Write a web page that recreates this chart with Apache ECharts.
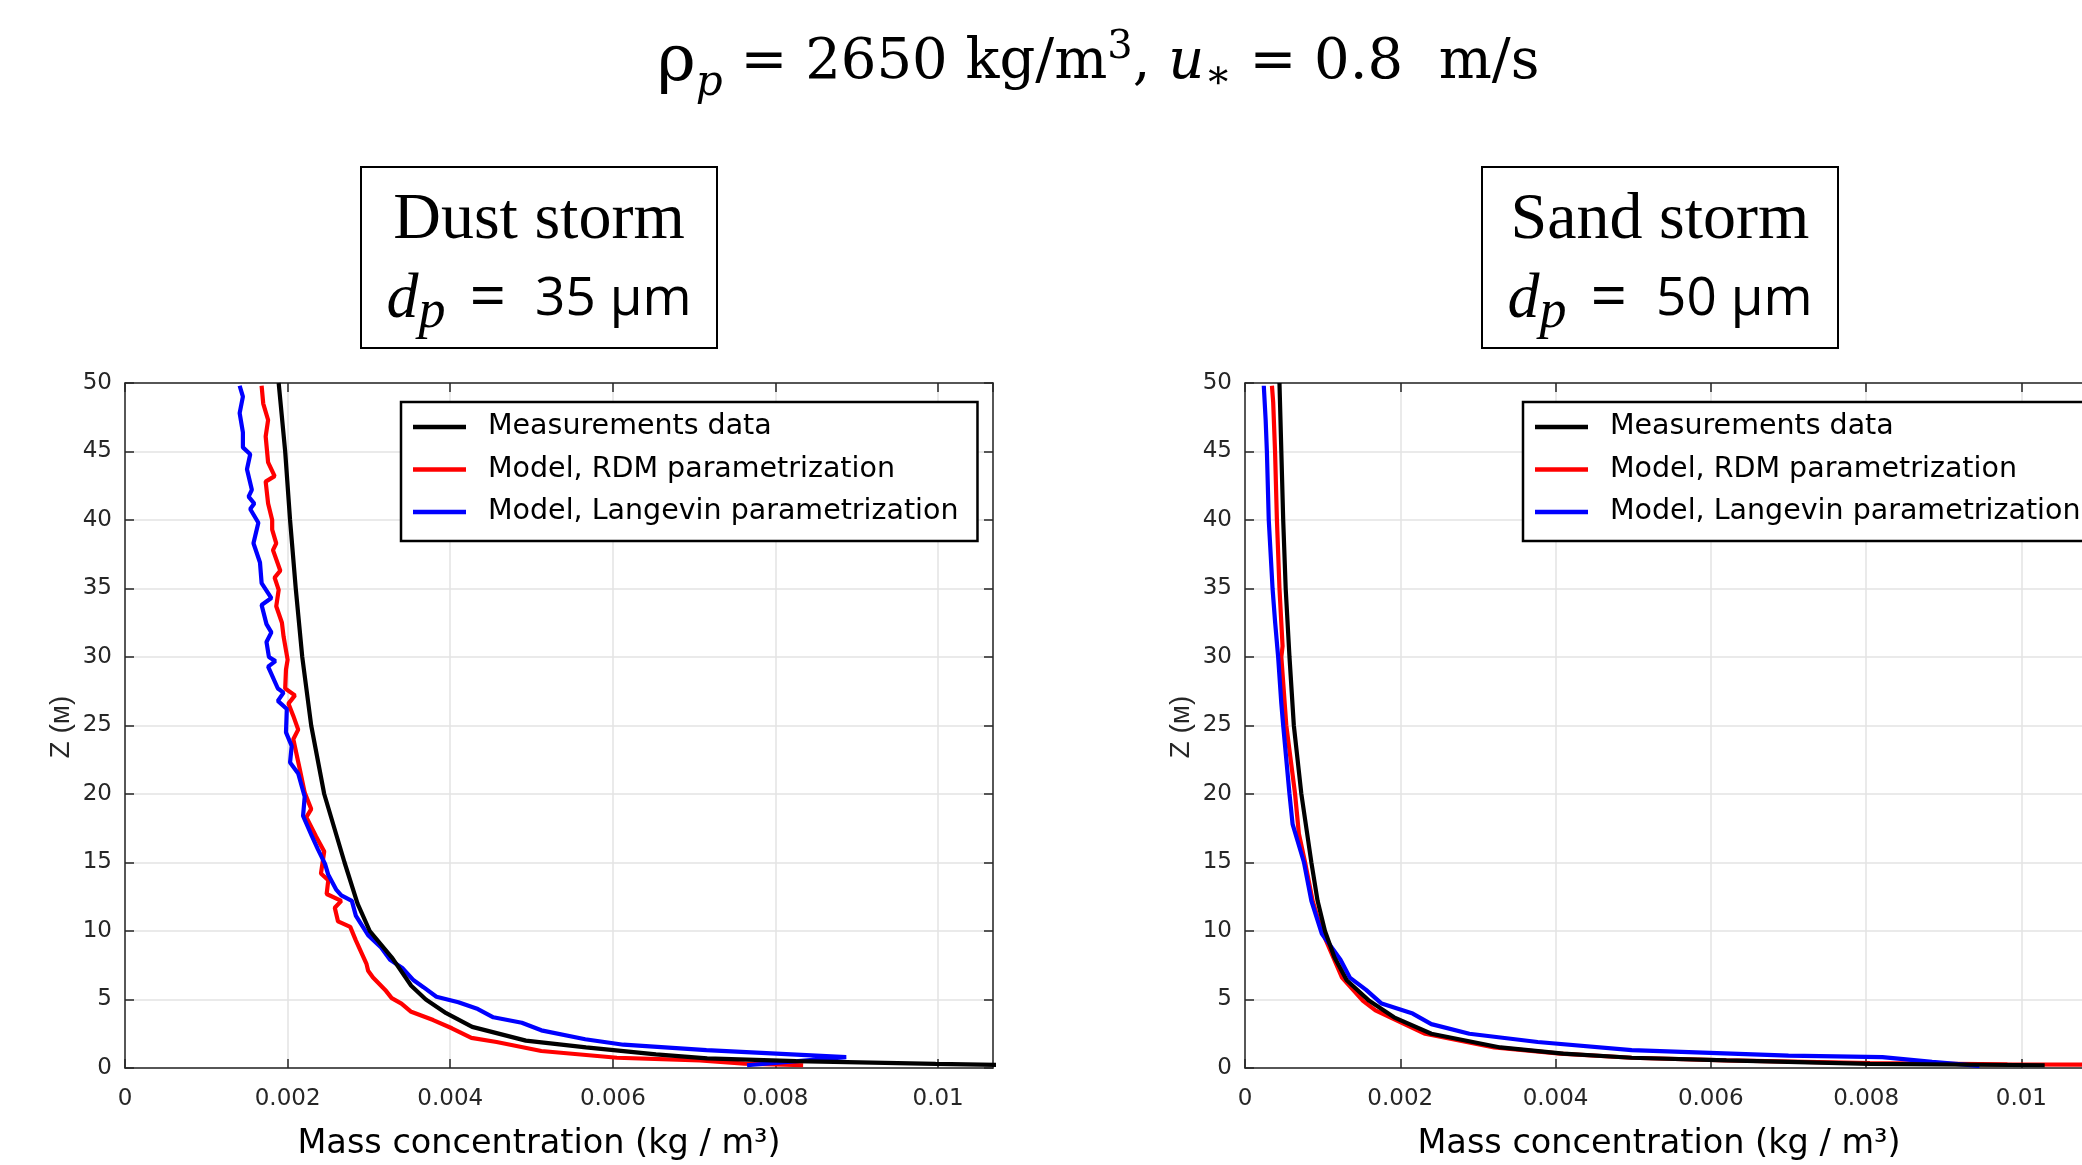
<!DOCTYPE html>
<html><head><meta charset="utf-8">
<script src="https://cdn.jsdelivr.net/npm/echarts@6/dist/echarts.min.js"></script>
<style>html,body{margin:0;padding:0;background:#fff}#c{width:2082px;height:1165px}</style>
</head><body><div id="c"></div><script>
// ---------- data ----------
const seriesNames = ['Measurements data', 'Model, RDM parametrization', 'Model, Langevin parametrization'];
const xTickLabels = ['0', '0.002', '0.004', '0.006', '0.008', '0.01'];
const yTickLabels = ['0', '5', '10', '15', '20', '25', '30', '35', '40', '45', '50'];

// Dust storm, d_p = 35 µm
const dustMeasZ = [50, 45, 40, 35, 30, 25, 20, 15, 12, 10, 8, 6, 5, 4, 3, 2, 1.5, 1, 0.7, 0.5, 0.3, 0.2];
const dustMeasC = [0.00189, 0.00197, 0.00203, 0.00210, 0.00218, 0.00229, 0.00245, 0.00270, 0.00286, 0.00301, 0.00329, 0.00352, 0.00370, 0.00395, 0.00427, 0.00493, 0.00567, 0.00653, 0.00716, 0.00825, 0.00997, 0.0110];
const dustRdmZ = [49.8, 48.5, 47.3, 46.1, 44.2, 43.2, 42.8, 41.2, 40.0, 39.3, 38.3, 37.8, 36.3, 35.8, 34.9, 33.7, 32.5, 31.5, 29.8, 29.1, 27.7, 27.2, 26.6, 25.7, 24.7, 24.0, 21.8, 20.1, 18.9, 18.3, 16.9, 15.8, 14.2, 13.7, 12.7, 12.2, 11.7, 10.7, 10.3, 9.3, 7.6, 7.1, 6.6, 5.7, 5.1, 4.7, 4.1, 3.5, 2.9, 2.2, 1.9, 1.24, 0.75, 0.56, 0.32, 0.2];
const dustRdmC = [0.00168, 0.00170, 0.00176, 0.00173, 0.00176, 0.00184, 0.00173, 0.00176, 0.00181, 0.00181, 0.00186, 0.00182, 0.00191, 0.00184, 0.00189, 0.00186, 0.00193, 0.00195, 0.00200, 0.00198, 0.00197, 0.00209, 0.00201, 0.00207, 0.00213, 0.00207, 0.00215, 0.00221, 0.00229, 0.00223, 0.00235, 0.00245, 0.00241, 0.00250, 0.00248, 0.00266, 0.00258, 0.00262, 0.00277, 0.00284, 0.00297, 0.00299, 0.00305, 0.00320, 0.00328, 0.00340, 0.00352, 0.00379, 0.00402, 0.00426, 0.00457, 0.00512, 0.00605, 0.00707, 0.00762, 0.00834];
const dustLgvZ = [49.8, 49.0, 47.8, 46.4, 45.3, 44.8, 43.7, 42.2, 41.7, 41.2, 40.8, 39.8, 38.3, 36.9, 35.4, 34.3, 33.8, 32.4, 31.8, 31.1, 30.0, 29.7, 29.3, 27.7, 27.4, 26.8, 26.2, 24.5, 23.5, 22.3, 21.5, 19.8, 18.4, 16.9, 16.0, 14.9, 14.1, 13.0, 12.6, 12.2, 11.1, 9.7, 8.8, 7.9, 7.3, 6.4, 5.9, 5.2, 4.8, 4.3, 3.7, 3.3, 2.75, 2.1, 1.7, 1.3, 0.8, 0.2];
const dustLgvC = [0.00141, 0.00145, 0.00141, 0.00145, 0.00145, 0.00154, 0.00150, 0.00156, 0.00152, 0.00159, 0.00154, 0.00164, 0.00158, 0.00166, 0.00168, 0.00180, 0.00168, 0.00174, 0.00180, 0.00174, 0.00177, 0.00185, 0.00176, 0.00188, 0.00195, 0.00188, 0.00199, 0.00198, 0.00205, 0.00203, 0.00213, 0.00221, 0.00219, 0.00230, 0.00237, 0.00246, 0.00250, 0.00260, 0.00266, 0.00279, 0.00284, 0.00299, 0.00315, 0.00326, 0.00341, 0.00355, 0.00367, 0.00383, 0.00410, 0.00434, 0.00453, 0.00488, 0.00512, 0.00566, 0.00613, 0.00715, 0.00887, 0.00765];

// Sand storm, d_p = 50 µm
const sandMeasZ = [50, 45, 40, 35, 30, 25, 20, 15, 12.2, 10, 8.1, 6.4, 4.9, 3.7, 2.5, 1.5, 1.05, 0.75, 0.56, 0.3, 0.2];
const sandMeasC = [0.000444, 0.000468, 0.000492, 0.000524, 0.000573, 0.000629, 0.000726, 0.000855, 0.000935, 0.00103, 0.00115, 0.00131, 0.00160, 0.00192, 0.00240, 0.00329, 0.00410, 0.00498, 0.00620, 0.00805, 0.0103];
const sandRdmZ = [49.8, 48.6, 45, 40, 35, 30.8, 30, 25, 20, 17.1, 15, 12.2, 10, 6.6, 4.9, 4.2, 2.5, 1.5, 1.05, 0.75, 0.56, 0.36, 0.27, 0.22];
const sandRdmC = [0.000347, 0.000363, 0.000387, 0.000411, 0.000444, 0.000484, 0.000468, 0.000532, 0.000645, 0.000694, 0.000774, 0.000871, 0.00099, 0.00125, 0.00152, 0.00168, 0.00232, 0.00321, 0.00406, 0.00498, 0.00620, 0.00805, 0.00982, 0.0115];
const sandLgvZ = [49.8, 47.3, 45, 40, 35, 32.6, 30, 26.6, 25, 20, 17.8, 15, 12.2, 9.8, 7.9, 6.6, 5.7, 4.7, 3.97, 3.2, 2.5, 1.9, 1.3, 0.9, 0.8, 0.45, 0.15];
const sandLgvC = [0.000242, 0.000266, 0.000282, 0.000306, 0.000355, 0.000387, 0.000427, 0.000468, 0.000492, 0.000573, 0.000613, 0.000760, 0.000855, 0.00099, 0.00123, 0.00135, 0.00156, 0.00176, 0.00216, 0.00240, 0.00289, 0.00377, 0.00498, 0.00700, 0.00821, 0.00885, 0.00946];

// ---------- helpers ----------
const pairs = (c, z) => c.map((v, i) => [v, z[i]]);
const AX = '#262626';
const colors = ['#000000', '#ff0000', '#0000ff'];

const plots = [
  { left: 125, xmax: 0.010675, sets: [[dustMeasC, dustMeasZ], [dustRdmC, dustRdmZ], [dustLgvC, dustLgvZ]], legendLeft: 401, xNameX: 539, yNameX: 61 },
  { left: 1245, xmax: 0.01118, sets: [[sandMeasC, sandMeasZ], [sandRdmC, sandRdmZ], [sandLgvC, sandLgvZ]], legendLeft: 1523, xNameX: 1659, yNameX: 1181 }
];

const grid = [], xAxis = [], yAxis = [], series = [], legend = [];
const labelStyle = { color: AX, fontFamily: 'DejaVu Sans', fontSize: 23 };
plots.forEach((p, g) => {
  grid.push({ left: p.left, top: 383, width: 868, height: 685, outerBoundsMode: 'none', containLabel: false });
  const base = {
    gridIndex: g, type: 'value', min: 0, max: p.xmax, interval: 0.002,
    axisLine: { show: true, onZero: false, lineStyle: { color: AX, width: 1.5 } },
    axisTick: { show: true, inside: true, length: 9, lineStyle: { color: AX, width: 1.5 } }
  };
  xAxis.push(Object.assign({}, base, {
    position: 'bottom',
    axisLabel: Object.assign({ show: true, margin: 20, showMaxLabel: false,
      formatter: v => xTickLabels[Math.round(v / 0.002)] || '' }, labelStyle),
    splitLine: { show: true, lineStyle: { color: '#e3e3e3', width: 1.5 } }
  }));
  xAxis.push(Object.assign({}, base, { position: 'top', axisLabel: { show: false }, splitLine: { show: false } }));
  const ybase = {
    gridIndex: g, type: 'value', min: 0, max: 50, interval: 5,
    axisLine: { show: true, onZero: false, lineStyle: { color: AX, width: 1.5 } },
    axisTick: { show: true, inside: true, length: 9, lineStyle: { color: AX, width: 1.5 } }
  };
  yAxis.push(Object.assign({}, ybase, {
    position: 'left',
    axisLabel: Object.assign({ show: true, margin: 13, formatter: v => yTickLabels[Math.round(v / 5)] }, labelStyle),
    splitLine: { show: true, lineStyle: { color: '#e3e3e3', width: 1.5 } }
  }));
  yAxis.push(Object.assign({}, ybase, { position: 'right', axisLabel: { show: false }, splitLine: { show: false } }));
  // draw order: RDM, Langevin, Measurements on top
  [1, 2, 0].forEach(k => {
    series.push({
      type: 'line', name: seriesNames[k], xAxisIndex: g * 2, yAxisIndex: g * 2,
      data: pairs(p.sets[k][0], p.sets[k][1]), showSymbol: false, symbol: 'none',
      clip: true, color: colors[k], lineStyle: { color: colors[k], width: 4.2 }, z: 3 + (k === 0 ? 2 : k === 2 ? 1 : 0)
    });
  });
  legend.push({
    data: seriesNames, left: p.legendLeft, top: 402, orient: 'vertical',
    backgroundColor: '#fff', borderColor: '#000', borderWidth: 2.5, borderRadius: 0,
    padding: [10, 19, 14, 12], itemGap: 12.5, itemWidth: 53, itemHeight: 4.5, icon: 'rect',
    selectedMode: false,
    textStyle: { fontFamily: 'DejaVu Sans', fontSize: 28.5, color: '#000', lineHeight: 30, padding: [0, 0, 0, 17] }
  });
});

const nameFont = { fontFamily: 'DejaVu Sans', fontSize: 33.5, fill: '#000' };
const graphic = [];
plots.forEach((p, g) => {
  graphic.push({ type: 'text', x: p.xNameX, y: 1144, style: Object.assign({ text: 'Mass concentration (kg / m³)', align: 'center', verticalAlign: 'middle' }, nameFont) });
  graphic.push({ type: 'text', x: p.yNameX, y: 727, rotation: Math.PI / 2,
    style: { text: 'Z (м)', fontFamily: 'Liberation Sans', fontSize: 28, fill: AX, align: 'center', verticalAlign: 'middle' } });
});
// title
graphic.push({ type: 'text', x: 657, y: 63, style: {
  text: '{r|ρ}{ps|p}{n| = 2650 kg/m}{sup|3}{n|, }{i|u}{ss|∗}{n| = 0.8  m/s}',
  align: 'left', verticalAlign: 'middle', fill: '#000',
  rich: {
    r: { fontFamily: 'DejaVu Serif', fontSize: 66, fill: '#000' },
    ps: { fontFamily: 'DejaVu Serif', fontStyle: 'italic', fontSize: 42, fill: '#000', padding: [42, 0, 0, 0] },
    n: { fontFamily: 'DejaVu Serif', fontSize: 56, fill: '#000' },
    sup: { fontFamily: 'DejaVu Serif', fontSize: 40, fill: '#000', padding: [0, 0, 30, 0] },
    i: { fontFamily: 'DejaVu Serif', fontStyle: 'italic', fontSize: 56, fill: '#000' },
    ss: { fontFamily: 'DejaVu Serif', fontSize: 40, fill: '#000', padding: [30, 0, 0, 0] }
  } } });
// storm boxes
const boxes = [
  { x: 361, name: 'Dust storm', size: '35' },
  { x: 1482, name: 'Sand storm', size: '50' }
];
boxes.forEach(b => {
  graphic.push({ type: 'rect', shape: { x: b.x, y: 167, width: 356, height: 181 }, style: { fill: 'none', stroke: '#000', lineWidth: 2 } });
  graphic.push({ type: 'text', x: b.x + 178, y: 221, style: { text: b.name, fontFamily: 'Liberation Serif', fontSize: 66, fill: '#000', align: 'center', verticalAlign: 'middle' } });
  graphic.push({ type: 'text', x: b.x + 178, y: 300, style: {
    text: '{d|d}{p|p}{e|=}{v|' + b.size + '}{u|µm}', align: 'center', verticalAlign: 'middle', fill: '#000',
    rich: {
      d: { fontFamily: 'Liberation Serif', fontStyle: 'italic', fontSize: 64, fill: '#000' },
      p: { fontFamily: 'Liberation Serif', fontStyle: 'italic', fontSize: 54, fill: '#000', padding: [26, 0, 0, 0] },
      e: { fontFamily: 'Open Sans', fontSize: 64, fill: '#000', padding: [0, 0, 0, 24] },
      v: { fontFamily: 'Open Sans', fontSize: 53, fill: '#000', padding: [0, 0, 0, 29] },
      u: { fontFamily: 'Open Sans', fontSize: 53, fill: '#000', padding: [0, 0, 0, 14] }
    } } });
});

const chart = echarts.init(document.getElementById('c'), null, { renderer: 'canvas' });
chart.setOption({
  animation: false, backgroundColor: '#fff',
  grid, xAxis, yAxis, series, legend, graphic
});
</script></body></html>
